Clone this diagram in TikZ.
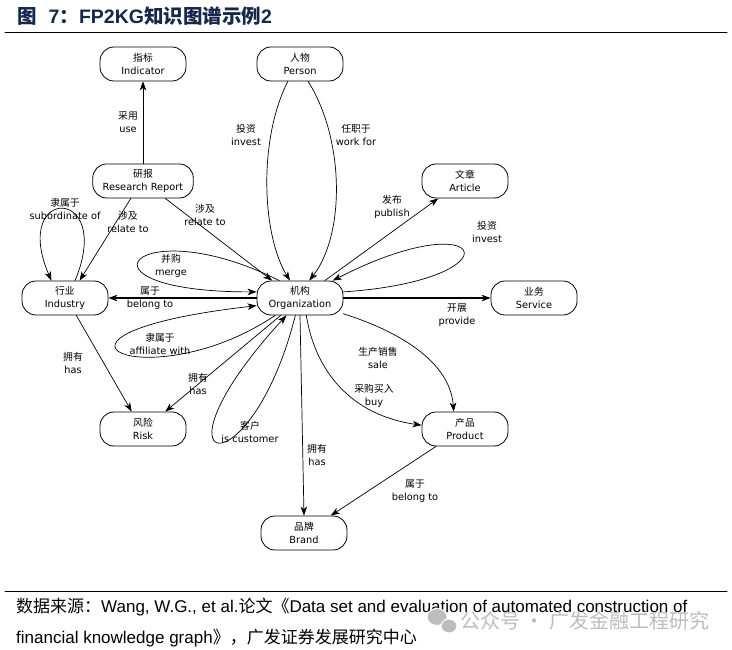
\documentclass[tikz,border=0pt]{standalone}
\usepackage{fontspec}
\usepackage{xcolor}
\usepackage{tikz}
\usetikzlibrary{arrows.meta}
\setmainfont{Liberation Sans}
\newfontfamily\cjk{Noto Sans CJK SC}
\newfontfamily\lat{DejaVu Sans}
\definecolor{title}{HTML}{14284B}
\definecolor{mark}{HTML}{BDBDBD}
\tikzset{
  Entity/.style={
    draw, line width=0.8pt,
    rectangle, rounded corners=14pt,
    minimum width=86pt, minimum height=34pt,
    inner xsep=10pt, align=center,
    font=\fontsize{9.8}{12.5}\selectfont
  },
  Rel/.style={
    align=center, inner sep=1pt,
    font=\fontsize{9.8}{12.5}\selectfont
  },
  Link/.style={
    line width=0.7pt,
    -{Stealth[length=9pt,width=6.5pt,inset=2.5pt]}
  }
}
\newcommand{\Pair}[2]{%
  % #1 = Chinese name, #2 = English name
  {\cjk #1}\\{\lat #2}%
}

\begin{document}
\begin{tikzpicture}[x=1pt, y=-1pt, line cap=round, line join=round]
  \path[fill=white] (0,0) rectangle (732,650);
  \useasboundingbox (0,0) rectangle (732,650);

  % heading and rules
  \node[anchor=base west, inner sep=0, text=title,
        font=\fontsize{19.5}{22}\selectfont\bfseries] (cap) at (17,24)
    {{\cjk 图}\hspace{12pt}7{\cjk ：}FP2KG{\cjk 知识图谱示例}2};
  \draw[line width=1pt] (5,33) -- (727,33);
  \draw[line width=1pt] (5,591) -- (727,591);

  % entities
  \node[Entity] (indic)    at (143,64)  {\Pair{指标}{Indicator}};
  \node[Entity] (person)   at (300,64)  {\Pair{人物}{Person}};
  \node[Entity] (report)   at (143,181) {\Pair{研报}{Research Report}};
  \node[Entity] (article)  at (465,181) {\Pair{文章}{Article}};
  \node[Entity] (industry) at (65,298)  {\Pair{行业}{Industry}};
  \node[Entity] (org)      at (300,298) {\Pair{机构}{Organization}};
  \node[Entity] (service)  at (534,298) {\Pair{业务}{Service}};
  \node[Entity] (risk)     at (143,429) {\Pair{风险}{Risk}};
  \node[Entity] (product)  at (465,429) {\Pair{产品}{Product}};
  \node[Entity] (brand)    at (304,533) {\Pair{品牌}{Brand}};

  % relations
  \draw[Link] (report.north) -- (indic.south);
  \draw[Link] (person.235) .. controls (258,140) and (262,235) .. (org.120);
  \draw[Link] (person.295) .. controls (345,140) and (345,235) .. (org.62);
  \draw[Link] (org.35) -- (article.213);
  \draw[Link] (org.8) .. controls (520,280) and (490,200) .. (org.28);
  \draw[Link, line width=1.3pt] (org.east) -- (service.west);
  \draw[Link, line width=1.3pt] (org.west) -- (industry.east);
  \draw[Link] (org.140) .. controls (135,208) and (62,292) .. (org.172);
  \draw[Link] (report.322) -- (org.148);
  \draw[Link] (report.235) -- (industry.50);
  \draw[Link] (industry.60) .. controls (115,185) and (10,185) .. (industry.128);
  \draw[Link] (org.215) .. controls (150,400) and (0,335) .. (org.190);
  \draw[Link] (industry.303) -- (risk.123);
  \draw[Link] (org.222) -- (risk.38);
  \draw[Link] (org.255) .. controls (250,495) and (140,475) .. (org.232);
  \draw[Link] (org.south) -- (brand.north);
  \draw[Link] (org.340) .. controls (395,330) and (450,360) .. (product.123);
  \draw[Link] (org.290) .. controls (315,370) and (350,415) .. (product.175);
  \draw[Link] (product.211) -- (brand.33);

  % relation labels
  \node[Rel] (lUse)      at (128,122) {\Pair{采用}{use}};
  \node[Rel] (lInvestP)  at (246,135) {\Pair{投资}{invest}};
  \node[Rel] (lWork)     at (356,135) {\Pair{任职于}{work for}};
  \node[Rel] (lPublish)  at (392,207) {\Pair{发布}{publish}};
  \node[Rel] (lInvestO)  at (487,232) {\Pair{投资}{invest}};
  \node[Rel] (lSub)      at (65,209)  {\Pair{隶属于}{subordinate of}};
  \node[Rel] (lRelInd)   at (128,222) {\Pair{涉及}{relate to}};
  \node[Rel] (lRelOrg)   at (205,215) {\Pair{涉及}{relate to}};
  \node[Rel] (lMerge)    at (171,266) {\Pair{并购}{merge}};
  \node[Rel] (lBelongI)  at (150,298) {\Pair{属于}{belong to}};
  \node[Rel] (lProvide)  at (457,315) {\Pair{开展}{provide}};
  \node[Rel] (lAffil)    at (160,344) {\Pair{隶属于}{affiliate with}};
  \node[Rel] (lHasI)     at (73,363)  {\Pair{拥有}{has}};
  \node[Rel] (lHasR)     at (198,384) {\Pair{拥有}{has}};
  \node[Rel] (lCustomer) at (250,432) {\Pair{客户}{is customer}};
  \node[Rel] (lHasB)     at (317,455) {\Pair{拥有}{has}};
  \node[Rel] (lSale)     at (378,358) {\Pair{生产销售}{sale}};
  \node[Rel] (lBuy)      at (374,396) {\Pair{采购买入}{buy}};
  \node[Rel] (lBelongP)  at (415,491) {\Pair{属于}{belong to}};

  % source lines
  \node[anchor=base west, inner sep=0, font=\fontsize{17}{20}\selectfont] (src1) at (16,612)
    {{\cjk 数据来源：}Wang, W.G., et al.{\cjk 论文《}Data set and evaluation of automated construction of};
  \node[anchor=base west, inner sep=0, font=\fontsize{17}{20}\selectfont] (src2) at (16,643)
    {financial knowledge graph{\cjk 》，广发证券发展研究中心}};

  % watermark
  \filldraw[fill=mark, draw=white, line width=1pt] (437,617) ellipse (10 and 8.5);
  \filldraw[fill=mark, draw=white, line width=1pt] (449,626) ellipse (8 and 7);
  \node[anchor=west, inner sep=0, text=mark, font=\cjk\fontsize{20}{22}\selectfont] (wm) at (460,621)
    {公众号 · 广发金融工程研究};
\end{tikzpicture}
\end{document}
